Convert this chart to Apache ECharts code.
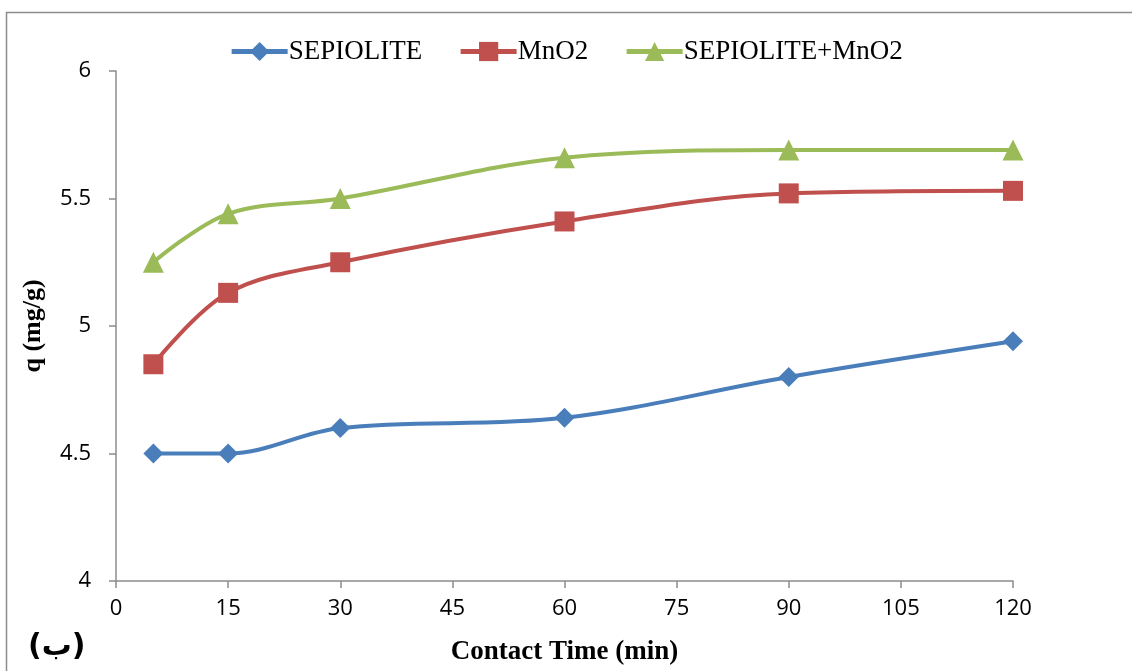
<!DOCTYPE html>
<html>
<head>
<meta charset="utf-8">
<script src="https://cdn.jsdelivr.net/npm/echarts@6/dist/echarts.min.js"></script>
<style>
  html, body { margin: 0; padding: 0; background: #fff; }
  #chart { width: 1132px; height: 671px; }
</style>
</head>
<body>
<div id="chart"></div>
<script>
// Contact time (min) and adsorbed amount q (mg/g) for each adsorbent
const contactTime = [5, 15, 30, 60, 90, 120];
const sepiolite = [4.50, 4.50, 4.60, 4.64, 4.80, 4.94];
const mno2 = [4.85, 5.13, 5.25, 5.41, 5.52, 5.53];
const sepioliteMno2 = [5.25, 5.44, 5.50, 5.66, 5.69, 5.69];
const seriesNames = ['SEPIOLITE', 'MnO2', 'SEPIOLITE+MnO2'];

const pairs = (ys) => contactTime.map((x, i) => [x, ys[i]]);

const chart = echarts.init(document.getElementById('chart'));
const axisGray = '#8c8c8c';

function lineSeries(name, ys, color, symbol, size) {
  return {
    name, type: 'line', data: pairs(ys),
    smooth: 0.35,
    symbol, symbolSize: size,
    lineStyle: { color, width: 4 },
    itemStyle: { color },
    z: 3
  };
}

chart.setOption({
  animation: false,
  backgroundColor: '#fff',
  graphic: [
    { type: 'rect', shape: { x: 6.5, y: 12.5, width: 1140, height: 700 },
      style: { fill: 'none', stroke: '#8c8c8c', lineWidth: 1.5 }, z: 0 },
    { type: 'text', left: 28, top: 632,
      style: { text: '(ب)', font: 'bold 30px "DejaVu Sans"', fill: '#000' } }
  ],
  legend: {
    top: 33, left: 'center',
    itemWidth: 56, itemHeight: 24, itemGap: 36,
    lineStyle: { width: 5 },
    textStyle: { fontFamily: '"Liberation Serif", serif', fontSize: 27, color: '#000', padding: [0, 0, 0, -4] },
    data: seriesNames
  },
  grid: { left: 116, right: 119, top: 71, bottom: 88, containLabel: false },
  xAxis: {
    type: 'value', min: 0, max: 120, interval: 15,
    name: 'Contact Time (min)', nameLocation: 'middle', nameGap: 58,
    nameTextStyle: { fontFamily: '"Liberation Serif", serif', fontWeight: 'bold', fontSize: 27, color: '#000' },
    axisLine: { lineStyle: { color: axisGray, width: 1.5 } },
    axisTick: { show: true, length: 7, lineStyle: { color: axisGray, width: 1.5 } },
    axisLabel: { margin: 17, fontFamily: '"Open Sans", sans-serif', fontSize: 22, color: '#000' },
    splitLine: { show: false }
  },
  yAxis: {
    type: 'value', min: 4, max: 6, interval: 0.5,
    name: 'q (mg/g)', nameLocation: 'middle', nameGap: 70, nameRotate: 90,
    nameTextStyle: { fontFamily: '"Liberation Serif", serif', fontWeight: 'bold', fontSize: 26, color: '#000' },
    axisLine: { show: true, lineStyle: { color: axisGray, width: 1.5 } },
    axisTick: { show: true, length: 7, lineStyle: { color: axisGray, width: 1.5 } },
    axisLabel: { margin: 25, fontFamily: '"Open Sans", sans-serif', fontSize: 22, color: '#000',
      formatter: v => String(v) },
    splitLine: { show: false }
  },
  series: [
    lineSeries(seriesNames[0], sepiolite, '#4A7EBB', 'diamond', [20, 20]),
    lineSeries(seriesNames[1], mno2, '#C0504D', 'rect', 20),
    lineSeries(seriesNames[2], sepioliteMno2, '#9BBB59', 'triangle', 21)
  ]
});
</script>
</body>
</html>
